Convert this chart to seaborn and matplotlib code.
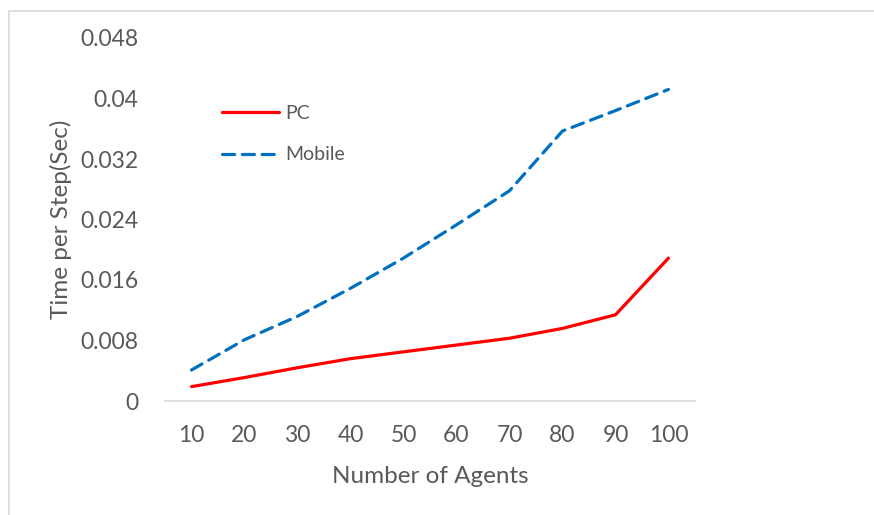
import matplotlib
matplotlib.use("Agg")
import matplotlib.pyplot as plt
from matplotlib.patches import Rectangle
from matplotlib.lines import Line2D
import seaborn as sns
import pandas as pd

# Simulation step time for each agent count
agents = [10, 20, 30, 40, 50, 60, 70, 80, 90, 100]
pc_time = [0.0019, 0.0031, 0.0044, 0.0056, 0.0065, 0.0074, 0.0083, 0.0096, 0.0114, 0.0189]
mobile_time = [0.0041, 0.0081, 0.0112, 0.0149, 0.0189, 0.0233, 0.0278, 0.0357, 0.0384, 0.0412]
y_ticks = [0, 0.008, 0.016, 0.024, 0.032, 0.04, 0.048]
y_tick_labels = ["0", "0.008", "0.016", "0.024", "0.032", "0.04", "0.048"]

df = pd.DataFrame({
    "Agents": [str(a) for a in agents] * 2,
    "Time": pc_time + mobile_time,
    "Device": ["PC"] * len(agents) + ["Mobile"] * len(agents),
})

sns.set_theme(style="white")
plt.rcParams["font.family"] = ["Lato", "DejaVu Sans"]
text_color = "#595959"
pc_color = "#FF0000"
mobile_color = "#0070C0"
mobile_dash = (3.8, 2.4)

fig = plt.figure(figsize=(8.74, 5.15), dpi=100)
W, H = 874, 515
ax = fig.add_axes([165 / W, 1 - 401 / H, 530 / W, 363 / H])

sns.lineplot(
    data=df, x="Agents", y="Time", hue="Device", style="Device",
    palette={"PC": pc_color, "Mobile": mobile_color},
    dashes={"PC": "", "Mobile": mobile_dash},
    linewidth=2.3, sort=False, ax=ax, legend=False,
)
for line in ax.get_lines():
    line.set_solid_capstyle("round")
    line.set_solid_joinstyle("round")
    line.set_dash_capstyle("round")

ax.set_xlim(-0.5, len(agents) - 0.5)
ax.set_ylim(0, 0.048)
ax.set_yticks(y_ticks)
ax.set_yticklabels(y_tick_labels)

for side in ["top", "right", "left"]:
    ax.spines[side].set_visible(False)
ax.spines["bottom"].set_color("#D9D9D9")
ax.spines["bottom"].set_linewidth(1.2)
ax.tick_params(axis="both", length=0, labelsize=16.5, colors=text_color)
ax.tick_params(axis="y", pad=19)
ax.tick_params(axis="x", pad=17)

ax.set_xlabel("Number of Agents", fontsize=17.5, color=text_color)
ax.set_ylabel("Time per Step(Sec)", fontsize=17.5, color=text_color)
ax.xaxis.set_label_coords(0.5, -0.178)
ax.yaxis.set_label_coords(-0.1755, 0.5)

handles = [
    Line2D([], [], color=pc_color, linewidth=2.3, solid_capstyle="round"),
    Line2D([], [], color=mobile_color, linewidth=2.3, linestyle=(0, mobile_dash),
           dash_capstyle="round"),
]
leg = ax.legend(
    handles, ["PC", "Mobile"], loc="upper left",
    bbox_to_anchor=(222 / W, 1 - 105 / H), bbox_transform=fig.transFigure,
    frameon=False, fontsize=14, handlelength=2.95, handletextpad=0.3,
    labelspacing=1.25, borderpad=0, borderaxespad=0,
)
for t in leg.get_texts():
    t.set_color(text_color)

# Chart area border
fig.patches.append(Rectangle((9 / W, -0.2), 1.5, 1.2 - 11 / H,
                             transform=fig.transFigure, fill=False,
                             edgecolor="#D9D9D9", linewidth=1.2))

fig.savefig("out.png", dpi=100)
